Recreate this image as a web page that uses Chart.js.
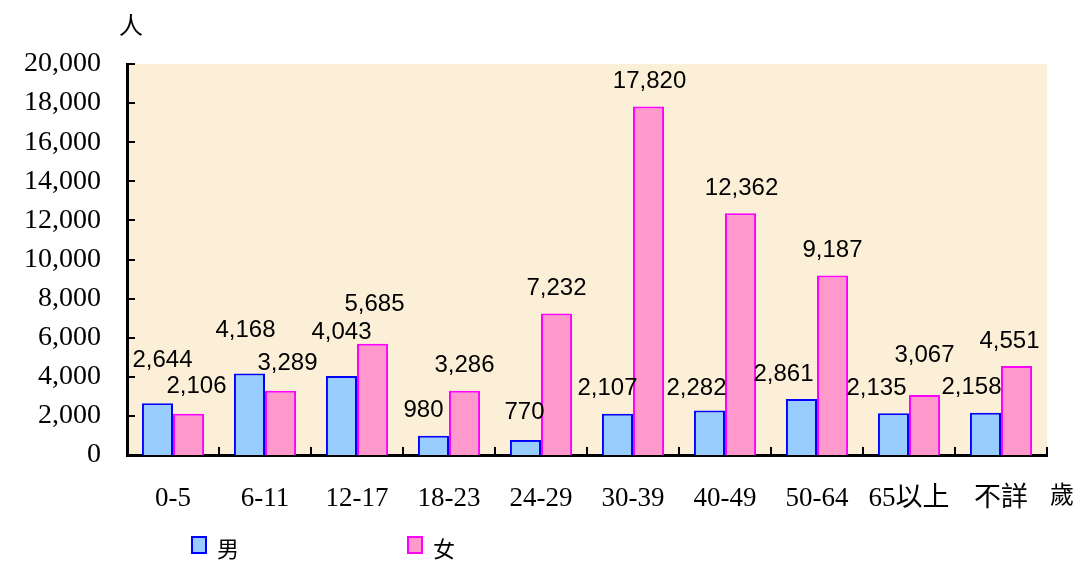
<!DOCTYPE html>
<html>
<head>
<meta charset="utf-8">
<script src="https://cdn.jsdelivr.net/npm/chart.js@4/dist/chart.umd.min.js"></script>
<style>
  html, body { margin: 0; padding: 0; background: #ffffff; }
  canvas { display: block; }
</style>
</head>
<body>
<canvas id="chart" width="1077" height="563"></canvas>
<script>
const ageGroups = ["0-5", "6-11", "12-17", "18-23", "24-29", "30-39", "40-49", "50-64", "65以上", "不詳"];
const maleCounts = [2644, 4168, 4043, 980, 770, 2107, 2282, 2861, 2135, 2158];
const femaleCounts = [2106, 3289, 5685, 3286, 7232, 17820, 12362, 9187, 3067, 4551];
const yTickLabels = ["0", "2,000", "4,000", "6,000", "8,000", "10,000", "12,000", "14,000", "16,000", "18,000", "20,000"];
const seriesNames = ["男", "女"];
const yUnit = "人";
const xUnit = "歲";

const serif = "'Liberation Serif', 'Noto Sans CJK TC', serif";
const sans = "'Liberation Sans', Arial, sans-serif";

// label nudges so the numbers don't sit on top of each other (like the original)
const labelNudge = [
  [[5, -18], [-4, -18], [0, -19], [-10, 0], [-1, -3], [-10, 0], [-13, 3], [-18, 0], [-17, 0], [-14, 0]],
  [[8, -2], [7, -2], [2, -14], [0, 0], [0, 0], [1, 0], [1, 0], [0, 0], [0, -15], [-7, 0]],
];

const plotBackground = {
  id: "plotBackground",
  beforeDraw(chart) {
    const { ctx, chartArea: { left, top, width, height } } = chart;
    ctx.save();
    ctx.fillStyle = "#fcefd7";
    ctx.fillRect(left, top, width, height);
    ctx.restore();
  },
};

const innerTicks = {
  id: "innerTicks",
  afterDatasetsDraw(chart) {
    const { ctx, chartArea, scales: { x, y } } = chart;
    ctx.save();
    ctx.strokeStyle = "#000000";
    ctx.lineWidth = 2;
    ctx.beginPath();
    for (let i = 0; i < yTickLabels.length; i++) {
      const py = Math.round(y.getPixelForValue(i * 2000));
      ctx.moveTo(chartArea.left, py);
      ctx.lineTo(chartArea.left + 8, py);
    }
    for (let i = 0; i <= ageGroups.length; i++) {
      const px = Math.round(x.getPixelForValue(i - 0.5));
      ctx.moveTo(px, chartArea.bottom);
      ctx.lineTo(px, chartArea.bottom - 8);
    }
    ctx.stroke();
    ctx.restore();
  },
};

const valueLabels = {
  id: "valueLabels",
  afterDatasetsDraw(chart) {
    const { ctx } = chart;
    ctx.save();
    ctx.font = "24px " + sans;
    ctx.fillStyle = "#000000";
    ctx.textAlign = "center";
    ctx.textBaseline = "middle";
    chart.data.datasets.forEach((ds, di) => {
      const meta = chart.getDatasetMeta(di);
      meta.data.forEach((bar, i) => {
        const [dx, dy] = labelNudge[di][i];
        ctx.fillText(ds.data[i].toLocaleString("en-US"), bar.x + dx, bar.y - 25 + dy);
      });
    });
    ctx.restore();
  },
};

const extras = {
  id: "extras",
  afterDraw(chart) {
    const { ctx } = chart;
    ctx.save();
    ctx.fillStyle = "#000000";
    ctx.font = "24px " + serif;
    ctx.textAlign = "center";
    ctx.textBaseline = "middle";
    ctx.fillText(yUnit, 131, 28);
    ctx.fillText(xUnit, 1062, 497);

    // legend
    const items = [
      { x: 192, ds: chart.data.datasets[0] },
      { x: 408, ds: chart.data.datasets[1] },
    ];
    items.forEach((it) => {
      ctx.fillStyle = it.ds.backgroundColor;
      ctx.fillRect(it.x, 537, 14, 16);
      ctx.strokeStyle = it.ds.borderColor;
      ctx.lineWidth = 2;
      ctx.strokeRect(it.x, 537, 14, 16);
      ctx.fillStyle = "#000000";
      ctx.font = "22px " + serif;
      ctx.textAlign = "left";
      ctx.fillText(it.ds.label, it.x + 25, 551);
    });
    ctx.restore();
  },
};

new Chart(document.getElementById("chart"), {
  type: "bar",
  data: {
    labels: ageGroups,
    datasets: [
      {
        label: seriesNames[0],
        data: maleCounts,
        backgroundColor: "#99ccff",
        borderColor: "#0000ff",
        borderWidth: 2,
        borderSkipped: "bottom",
      },
      {
        label: seriesNames[1],
        data: femaleCounts,
        backgroundColor: "#ff99cc",
        borderColor: "#ff00ff",
        borderWidth: 2,
        borderSkipped: "bottom",
      },
    ],
  },
  plugins: [plotBackground, innerTicks, valueLabels, extras],
  options: {
    responsive: false,
    animation: false,
    layout: { padding: { top: 64, right: 30, bottom: 0, left: 0 } },
    datasets: {
      bar: { categoryPercentage: 0.675, barPercentage: 1.0 },
    },
    plugins: {
      legend: { display: false },
      tooltip: { enabled: false },
    },
    scales: {
      x: {
        grid: { display: false, drawTicks: false },
        border: { color: "#000000", width: 3 },
        ticks: {
          color: "#000000",
          font: { family: serif, size: 27 },
          padding: 28,
          maxRotation: 0,
          autoSkip: false,
        },
        afterFit(scale) { scale.height = 108; },
      },
      y: {
        min: 0,
        max: 20000,
        grid: { display: false, drawTicks: false },
        border: { color: "#000000", width: 3 },
        ticks: {
          stepSize: 2000,
          color: "#000000",
          font: { family: serif, size: 28 },
          padding: 26,
          callback: (val) => yTickLabels[val / 2000],
        },
        afterFit(scale) { scale.width = 127; },
      },
    },
  },
});
</script>
</body>
</html>
